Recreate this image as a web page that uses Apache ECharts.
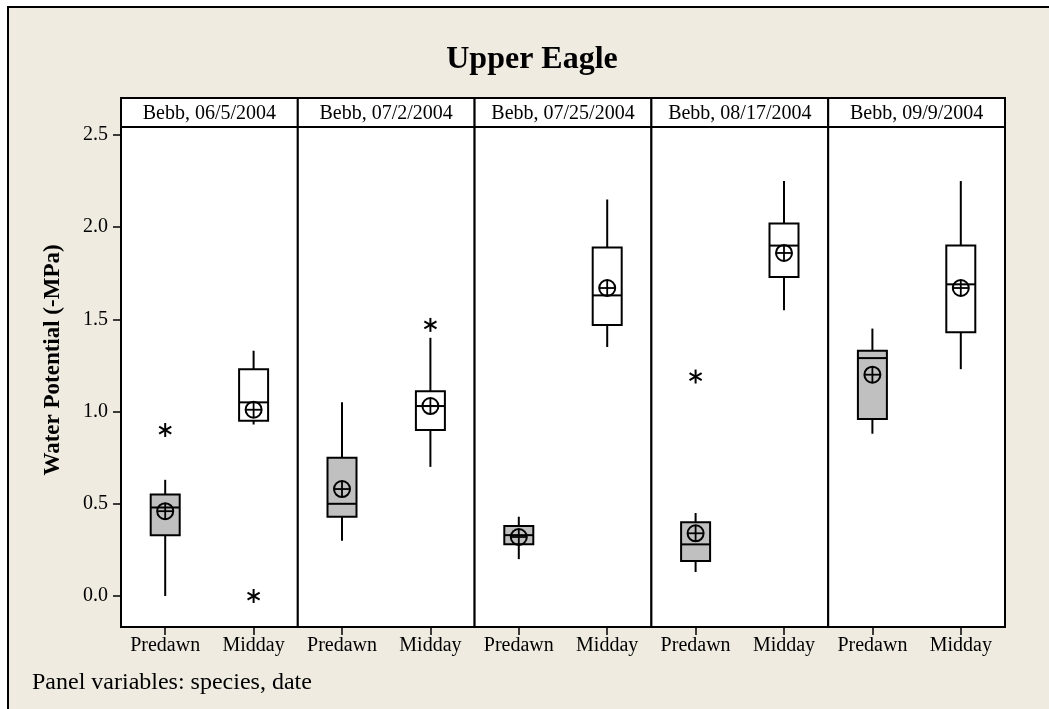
<!DOCTYPE html>
<html>
<head>
<meta charset="utf-8">
<script src="https://cdn.jsdelivr.net/npm/echarts@6/dist/echarts.min.js"></script>
<style>
  html, body { margin: 0; padding: 0; background: #fff; }
  #chart { width: 1049px; height: 709px; }
</style>
</head>
<body>
<div id="chart"></div>
<script>
// data
const categories = ['Predawn', 'Midday'];
const panels = ['Bebb, 06/5/2004', 'Bebb, 07/2/2004', 'Bebb, 07/25/2004', 'Bebb, 08/17/2004', 'Bebb, 09/9/2004'];
const yTicks = [0, 0.5, 1.0, 1.5, 2.0, 2.5];

// [lower whisker, Q1, median, Q3, upper whisker]
const predawnBox = [
  [0.00, 0.33, 0.48, 0.55, 0.63],
  [0.30, 0.43, 0.50, 0.75, 1.05],
  [0.20, 0.28, 0.33, 0.38, 0.43],
  [0.13, 0.19, 0.28, 0.40, 0.45],
  [0.88, 0.96, 1.29, 1.33, 1.45]
];
const middayBox = [
  [0.93, 0.95, 1.05, 1.23, 1.33],
  [0.70, 0.90, 1.03, 1.11, 1.40],
  [1.35, 1.47, 1.63, 1.89, 2.15],
  [1.55, 1.73, 1.90, 2.02, 2.25],
  [1.23, 1.43, 1.69, 1.90, 2.25]
];
const predawnMean = [0.46, 0.58, 0.32, 0.34, 1.20];
const middayMean = [1.01, 1.03, 1.67, 1.86, 1.67];
const predawnOutliers = [[0.90], [], [], [1.19], []];
const middayOutliers = [[0.00], [1.47], [], [], []];

// layout
const plotLeft = 121, panelW = 176.8, plotTop = 127, plotH = 500;
const yMin = -0.168, yMax = 2.543;
const serif = 'Liberation Serif, Times New Roman, serif';

const chart = echarts.init(document.getElementById('chart'));

const grids = [], xAxes = [], yAxes = [], series = [], graphics = [];

graphics.push({
  type: 'rect', z: -10, silent: true,
  shape: { x: 8, y: 7, width: 1100, height: 760 },
  style: { fill: '#efebe1', stroke: '#000', lineWidth: 2 }
});

panels.forEach((name, i) => {
  const left = plotLeft + i * panelW;
  grids.push({
    left: left, top: plotTop, width: panelW, height: plotH,
    show: true, backgroundColor: '#fff', borderColor: '#000', borderWidth: 2
  });
  xAxes.push({
    type: 'category', gridIndex: i, data: categories, position: 'bottom',
    axisLine: { show: false, onZero: false },
    axisTick: { show: true, alignWithLabel: true, interval: 0, length: 8, lineStyle: { color: '#000', width: 1.5 } },
    axisLabel: { color: '#000', fontFamily: serif, fontSize: 20, margin: 9, interval: 0 }
  });
  yAxes.push({
    type: 'value', gridIndex: i, min: yMin, max: yMax,
    splitLine: { show: false },
    axisLine: { show: false },
    axisTick: { show: i === 0, customValues: yTicks, length: 8, lineStyle: { color: '#000', width: 1.5 } },
    axisLabel: {
      show: i === 0, customValues: yTicks, color: '#000', fontFamily: serif, fontSize: 20, margin: 13,
      formatter: v => v.toFixed(1)
    }
  });

  // strip label
  graphics.push({
    type: 'rect', silent: true,
    shape: { x: left, y: 98, width: panelW, height: plotTop - 98 },
    style: { fill: '#fff', stroke: '#000', lineWidth: 2 }
  });
  graphics.push({
    type: 'text', silent: true, x: left + panelW / 2, y: 114,
    style: { text: name, fill: '#000', font: '20px ' + serif, align: 'center', verticalAlign: 'middle' }
  });

  const boxData = [
    [0].concat(predawnBox[i], [predawnMean[i]]),
    [1].concat(middayBox[i], [middayMean[i]])
  ];
  series.push({
    type: 'custom', xAxisIndex: i, yAxisIndex: i,
    data: boxData,
    renderItem: (params, api) => {
      const x = api.value(0);
      const p = k => api.coord([x, api.value(k)]);
      const lo = p(1), q1 = p(2), med = p(3), q3 = p(4), hi = p(5), mean = p(6);
      const cx = lo[0], hw = 14.5, r = 8;
      const line = { stroke: '#000', lineWidth: 2 };
      return {
        type: 'group',
        children: [
          { type: 'line', shape: { x1: cx, y1: hi[1], x2: cx, y2: q3[1] }, style: line },
          { type: 'line', shape: { x1: cx, y1: q1[1], x2: cx, y2: lo[1] }, style: line },
          {
            type: 'rect', shape: { x: cx - hw, y: q3[1], width: hw * 2, height: q1[1] - q3[1] },
            style: { fill: x === 0 ? '#c0c0c0' : '#fff', stroke: '#000', lineWidth: 2 }
          },
          { type: 'line', shape: { x1: cx - hw, y1: med[1], x2: cx + hw, y2: med[1] }, style: line },
          { type: 'circle', shape: { cx: cx, cy: mean[1], r: r }, style: { fill: 'none', stroke: '#000', lineWidth: 2 } },
          { type: 'line', shape: { x1: cx - r, y1: mean[1], x2: cx + r, y2: mean[1] }, style: { stroke: '#000', lineWidth: 1.8 } },
          { type: 'line', shape: { x1: cx, y1: mean[1] - r, x2: cx, y2: mean[1] + r }, style: { stroke: '#000', lineWidth: 1.8 } }
        ]
      };
    }
  });

  const outData = [];
  predawnOutliers[i].forEach(v => outData.push([0, v]));
  middayOutliers[i].forEach(v => outData.push([1, v]));
  series.push({
    type: 'custom', xAxisIndex: i, yAxisIndex: i,
    data: outData,
    renderItem: (params, api) => {
      const c = api.coord([api.value(0), api.value(1)]);
      const a = 7, dx = a * Math.sin(Math.PI / 3), dy = a * Math.cos(Math.PI / 3);
      const st = { stroke: '#000', lineWidth: 2 };
      return {
        type: 'group',
        children: [
          { type: 'line', shape: { x1: c[0], y1: c[1] - a, x2: c[0], y2: c[1] + a }, style: st },
          { type: 'line', shape: { x1: c[0] - dx, y1: c[1] - dy, x2: c[0] + dx, y2: c[1] + dy }, style: st },
          { type: 'line', shape: { x1: c[0] - dx, y1: c[1] + dy, x2: c[0] + dx, y2: c[1] - dy }, style: st }
        ]
      };
    }
  });
});

// titles
graphics.push({
  type: 'text', silent: true, x: 532, y: 60,
  style: { text: 'Upper Eagle', fill: '#000', font: 'bold 32px ' + serif, align: 'center', verticalAlign: 'middle' }
});
graphics.push({
  type: 'text', silent: true, x: 53, y: 360, rotation: Math.PI / 2,
  style: { text: 'Water Potential (-MPa)', fill: '#000', font: 'bold 23px ' + serif, align: 'center', verticalAlign: 'middle' }
});
graphics.push({
  type: 'text', silent: true, x: 32, y: 683,
  style: { text: 'Panel variables: species, date', fill: '#000', font: '24px ' + serif, align: 'left', verticalAlign: 'middle' }
});

chart.setOption({
  animation: false,
  grid: grids,
  xAxis: xAxes,
  yAxis: yAxes,
  series: series,
  graphic: graphics
});
</script>
</body>
</html>
